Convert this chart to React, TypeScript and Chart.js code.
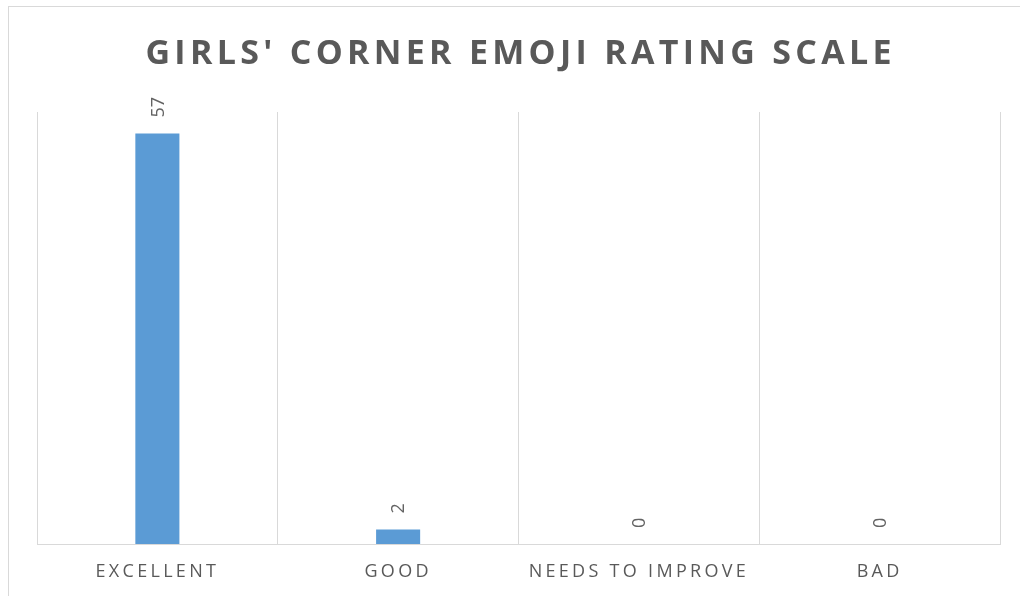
import React, { useEffect, useRef } from "react";
import { Chart, registerables } from "chart.js";

Chart.register(...registerables);

const TITLE = "GIRLS' CORNER EMOJI RATING SCALE";
const categories = ["EXCELLENT", "GOOD", "NEEDS TO IMPROVE", "BAD"];
const counts = [57, 2, 0, 0];
const yMax = 60;

const FONT = "'Open Sans', 'DejaVu Sans', sans-serif";
const TEXT_GRAY = "#595959";
const GRID = "#d9d9d9";
const BAR = "#5B9BD5";

const spacingPlugin = {
  id: "spacing",
  beforeDraw(chart: any) {
    (chart.ctx as any).letterSpacing = "3.3px";
  },
  afterDraw(chart: any) {
    (chart.ctx as any).letterSpacing = "0px";
  },
};

const titlePlugin = {
  id: "customTitle",
  afterDraw(chart: any) {
    const ctx = chart.ctx;
    const area = chart.chartArea;
    ctx.save();
    const ls = 4.3;
    (ctx as any).letterSpacing = ls + "px";
    ctx.font = `bold 34px ${FONT}`;
    ctx.fillStyle = TEXT_GRAY;
    ctx.textAlign = "center";
    ctx.textBaseline = "alphabetic";
    ctx.fillText(TITLE, (area.left + area.right) / 2 + ls / 2, 64);
    ctx.restore();
  },
};

const valueLabelPlugin = {
  id: "valueLabels",
  afterDatasetsDraw(chart: any) {
    const ctx = chart.ctx;
    const meta = chart.getDatasetMeta(0);
    ctx.save();
    (ctx as any).letterSpacing = "0px";
    ctx.font = `18px ${FONT}`;
    ctx.fillStyle = "#636363";
    ctx.textAlign = "left";
    ctx.textBaseline = "middle";
    meta.data.forEach((bar: any, i: number) => {
      const v = chart.data.datasets[0].data[i];
      ctx.save();
      ctx.translate(bar.x + 1, bar.y - 16);
      ctx.rotate(-Math.PI / 2);
      ctx.fillText(String(v), 0, 0);
      ctx.restore();
    });
    ctx.restore();
  },
};

export default function App() {
  const ref = useRef<HTMLCanvasElement | null>(null);

  useEffect(() => {
    if (!ref.current) return;
    const chart = new Chart(ref.current, {
      type: "bar",
      data: {
        labels: categories,
        datasets: [
          {
            data: counts,
            backgroundColor: BAR,
            borderWidth: 0,
            barPercentage: 0.183,
            categoryPercentage: 1,
          },
        ],
      },
      options: {
        animation: false,
        responsive: false,
        maintainAspectRatio: false,
        layout: { padding: { top: 112, left: 37, right: 20, bottom: 0 } },
        plugins: {
          legend: { display: false },
          title: { display: false },
          tooltip: { enabled: false },
        },
        scales: {
          x: {
            grid: {
              display: true,
              offset: true,
              color: GRID,
              lineWidth: 1,
              drawTicks: false,
            },
            border: { display: true, color: GRID, width: 1 },
            ticks: {
              color: TEXT_GRAY,
              font: { family: FONT, size: 18 },
              padding: 17,
              maxRotation: 0,
              autoSkip: false,
            },
            afterFit: (scale: any) => {
              scale.height = 52;
            },
          },
          y: {
            display: false,
            min: 0,
            max: yMax,
          },
        },
      },
      plugins: [spacingPlugin, valueLabelPlugin, titlePlugin],
    });
    return () => chart.destroy();
  }, []);

  return (
    <div
      style={{
        position: "fixed",
        left: 0,
        top: 0,
        width: 1020,
        height: 596,
        overflow: "hidden",
        background: "#fff",
      }}
    >
      <div
        style={{
          position: "absolute",
          left: 8,
          top: 6,
          width: 1040,
          height: 620,
          border: `1px solid ${GRID}`,
          boxSizing: "border-box",
        }}
      />
      <canvas
        ref={ref}
        width={1020}
        height={596}
        style={{ position: "absolute", left: 0, top: 0, width: 1020, height: 596 }}
      />
    </div>
  );
}
